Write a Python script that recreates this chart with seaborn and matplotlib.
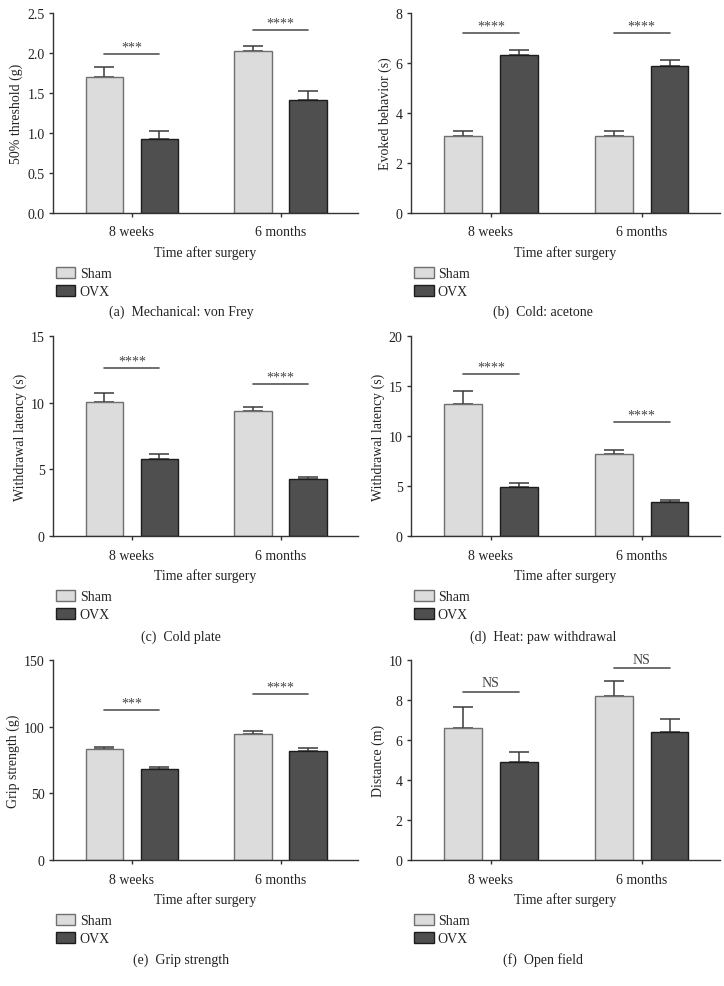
import numpy as np
import pandas as pd
import matplotlib
matplotlib.use('Agg')
import matplotlib.pyplot as plt
import seaborn as sns

# categories
times = ['8 weeks', '6 months']
groups = ['Sham', 'OVX']

# one entry per panel (a)-(f)
captions = ['(a)  Mechanical: von Frey', '(b)  Cold: acetone', '(c)  Cold plate',
            '(d)  Heat: paw withdrawal', '(e)  Grip strength', '(f)  Open field']
ylabels = ['50% threshold (g)', 'Evoked behavior (s)', 'Withdrawal latency (s)',
           'Withdrawal latency (s)', 'Grip strength (g)', 'Distance (m)']

sham_mean = [[1.70, 2.02], [3.09, 3.09], [10.03, 9.38], [13.24, 8.19], [83.4, 94.3], [6.62, 8.20]]
sham_sem = [[0.13, 0.07], [0.18, 0.18], [0.73, 0.30], [1.24, 0.43], [1.7, 2.3], [1.03, 0.77]]
ovx_mean = [[0.93, 1.41], [6.32, 5.87], [5.81, 4.27], [4.89, 3.36], [67.9, 82.1], [4.89, 6.41]]
ovx_sem = [[0.09, 0.11], [0.20, 0.24], [0.33, 0.17], [0.43, 0.27], [1.7, 2.0], [0.53, 0.66]]

# significance bars
sig_y = [[1.99, 2.29], [7.2, 7.2], [12.63, 11.4], [16.24, 11.41], [112.8, 124.8], [8.39, 9.58]]
sig_text = [['***', '****'], ['****', '****'], ['****', '****'],
            ['****', '****'], ['***', '****'], ['NS', 'NS']]

# axis scales
ymax = [2.5, 8, 15, 20, 150, 10]
ystep = [0.5, 2, 5, 5, 50, 2]
yfmt = ['{:.1f}', '{:.0f}', '{:.0f}', '{:.0f}', '{:.0f}', '{:.0f}']

sham_color, sham_edge = '#dcdcdc', '#707070'
ovx_color, ovx_edge = '#4f4f4f', '#1c1c1c'
ink = '#222222'

sns.set_style('ticks')
plt.rcParams['font.family'] = ['Liberation Serif', 'DejaVu Serif']
plt.rcParams['font.size'] = 10
plt.rcParams['axes.edgecolor'] = '#333333'
plt.rcParams['axes.linewidth'] = 1.0
plt.rcParams['xtick.color'] = '#333333'
plt.rcParams['ytick.color'] = '#333333'
plt.rcParams['xtick.labelcolor'] = ink
plt.rcParams['ytick.labelcolor'] = ink

W, H = 724, 987
fig = plt.figure(figsize=(W / 100, H / 100), dpi=100)

col_left = [53, 411]
col_width = [305, 309]
col_center = [181, 543]
row_top = [14, 337, 661]
cap_y = [312, 637, 960]
ax_h = 200

for i in range(6):
    r, c = divmod(i, 2)
    ax = fig.add_axes([col_left[c] / W, 1 - (row_top[r] + ax_h) / H, col_width[c] / W, ax_h / H])

    df = pd.DataFrame({
        'time': times * 2,
        'group': ['Sham'] * 2 + ['OVX'] * 2,
        'value': sham_mean[i] + ovx_mean[i],
    })
    sns.barplot(data=df, x='time', y='value', hue='group', order=times, hue_order=groups,
                palette=[sham_color, ovx_color], saturation=1, width=0.74, gap=0.32,
                errorbar=None, linewidth=1.0, legend=False, ax=ax)
    bar_sets = list(ax.containers)

    centers = []
    for cont, ec, err in zip(bar_sets, [sham_edge, ovx_edge], [sham_sem[i], ovx_sem[i]]):
        xs, hs = [], []
        for p in cont.patches:
            p.set_edgecolor(ec)
            p.set_zorder(2)
            xs.append(p.get_x() + p.get_width() / 2)
            hs.append(p.get_height())
        centers.append(xs)
        ax.errorbar(xs, hs, yerr=[np.zeros(len(err)), err], fmt='none', ecolor='#3a3a3a',
                    elinewidth=1.1, capsize=7, capthick=1.1, zorder=1)

    # significance lines between Sham and OVX of each time point
    for k in range(2):
        x0, x1 = centers[0][k], centers[1][k]
        ax.plot([x0, x1], [sig_y[i][k], sig_y[i][k]], color='#555555', lw=1.2, clip_on=False)
        is_ns = sig_text[i][k] == 'NS'
        ax.annotate(sig_text[i][k], ((x0 + x1) / 2, sig_y[i][k]), xytext=(0, 2 if is_ns else 0),
                    textcoords='offset points', ha='center', va='bottom',
                    fontsize=10, color='#444444', annotation_clip=False)

    ax.set_xlim(-0.53, 1.52)
    ax.set_ylim(0, ymax[i])
    ticks = np.arange(0, ymax[i] + ystep[i] / 2, ystep[i])
    ax.set_yticks(ticks)
    ax.set_yticklabels([yfmt[i].format(t) for t in ticks])
    ax.tick_params(axis='both', length=3, width=1.0, labelsize=10)
    ax.tick_params(axis='x', pad=6)
    ax.tick_params(axis='y', pad=3)
    ax.set_xlabel('Time after surgery', fontsize=10, labelpad=5, color=ink)
    ax.set_ylabel(ylabels[i], fontsize=10, labelpad=3, color=ink)
    sns.despine(ax=ax)

    handles = [cont.patches[0] for cont in bar_sets]
    ax.legend(handles=handles, labels=groups, loc='upper left', bbox_to_anchor=(0.01, -0.27),
              frameon=False, fontsize=10, handlelength=1.4, handleheight=0.85,
              labelspacing=0.3, handletextpad=0.3, borderaxespad=0, borderpad=0)

    fig.text(col_center[c] / W, 1 - cap_y[r] / H, captions[i], ha='center', va='center',
             fontsize=10, color=ink)

fig.savefig('out.png', dpi=100)
